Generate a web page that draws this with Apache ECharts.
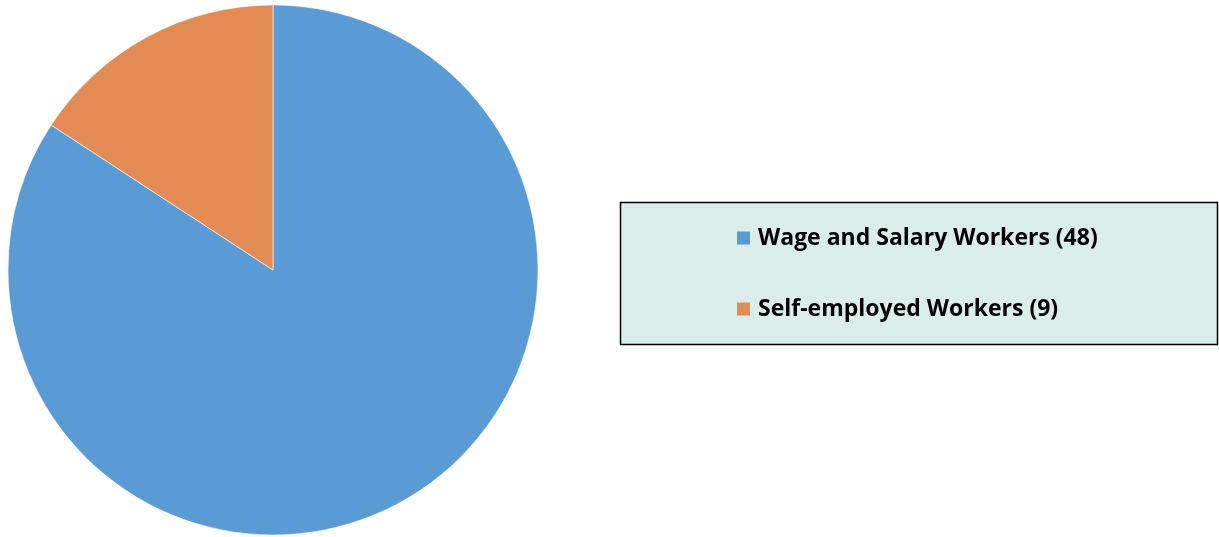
<!DOCTYPE html>
<html>
<head>
<meta charset="utf-8">
<script src="https://cdn.jsdelivr.net/npm/echarts@6/dist/echarts.min.js"></script>
<style>
html,body{margin:0;padding:0;background:#fff;}
#chart{width:1219px;height:537px;}
</style>
</head>
<body>
<div id="chart"></div>
<script>
const categories = ["Wage and Salary Workers", "Self-employed Workers"];
const values = [48, 9];
const colors = ["#5B9BD5", "#E38B55"];

const chart = echarts.init(document.getElementById('chart'), null, {renderer: 'canvas'});
const data = categories.map((c, i) => ({name: c, value: values[i], itemStyle: {color: colors[i]}}));
chart.setOption({
  animation: false,
  graphic: [{
    type: 'rect',
    z: 0,
    shape: {x: 620.5, y: 202.5, width: 597, height: 142},
    style: {fill: '#DAEDEA', stroke: '#000', lineWidth: 1.5}
  }],
  legend: {
    orient: 'vertical',
    left: 737,
    top: 226,
    padding: 0,
    itemWidth: 13,
    itemHeight: 13,
    itemGap: 47,
    icon: 'rect',
    z: 5,
    itemStyle: {borderWidth: 0},
    formatter: function (name) {
      const i = categories.indexOf(name);
      return name + ' (' + values[i] + ')';
    },
    textStyle: {
      fontFamily: 'Open Sans',
      fontWeight: 'bold',
      fontSize: 23,
      lineHeight: 24,
      color: '#000',
      padding: [0, 0, 0, 3]
    },
    data: categories
  },
  series: [{
    type: 'pie',
    center: [273, 270],
    radius: 265,
    startAngle: 90,
    clockwise: true,
    label: {show: false},
    labelLine: {show: false},
    emphasis: {disabled: true},
    itemStyle: {borderColor: '#fff', borderWidth: 0.6},
    data: data
  }]
});
</script>
</body>
</html>
